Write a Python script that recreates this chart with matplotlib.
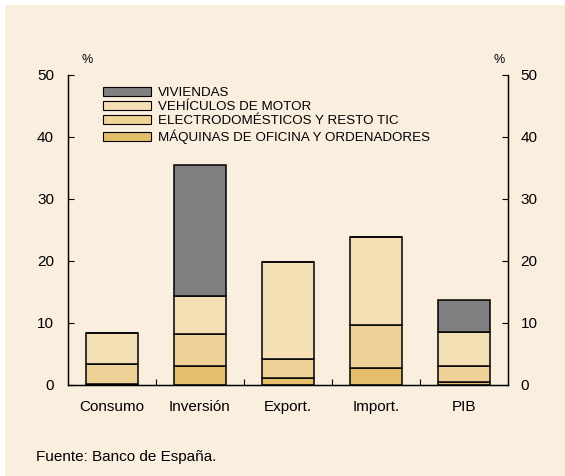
import numpy as np
import matplotlib.pyplot as plt
from matplotlib.patches import Patch, Rectangle

plt.rcParams['font.family'] = ['Liberation Sans', 'DejaVu Sans']

# Categories and stacked series (%)
categorias = ["Consumo", "Inversión", "Export.", "Import.", "PIB"]
maquinas = [0.2, 3.1, 1.1, 2.7, 0.45]
electro = [3.2, 5.2, 3.1, 7.0, 2.65]
vehiculos = [5.0, 6.1, 15.6, 14.2, 5.5]
viviendas = [0.0, 21.1, 0.0, 0.0, 5.1]

series = [
    ("MÁQUINAS DE OFICINA Y ORDENADORES", maquinas, "#e4be6a"),
    ("ELECTRODOMÉSTICOS Y RESTO TIC", electro, "#efd298"),
    ("VEHÍCULOS DE MOTOR", vehiculos, "#f5dfb5"),
    ("VIVIENDAS", viviendas, "#808080"),
]

bg = "#faeedf"
fig = plt.figure(figsize=(5.65, 4.76), dpi=100)
fig.patch.set_facecolor("white")
fig.add_artist(Rectangle((5 / 565, 0), 1, 1 - 5 / 476, transform=fig.transFigure,
                         facecolor=bg, edgecolor="none", zorder=-10))

ax = fig.add_axes([68 / 565, 91 / 476, 440 / 565, 310 / 476])
ax.set_facecolor(bg)
ax.patch.set_alpha(0)

x = np.arange(len(categorias))
bottom = np.zeros(len(categorias))
for label, vals, color in series:
    vals = np.array(vals)
    ax.bar(x, vals, width=0.59, bottom=bottom, color=color, edgecolor="black",
           linewidth=1.1, label=label)
    bottom += vals

ax.set_xlim(-0.5, 4.5)
ax.set_ylim(0, 50)
ax.set_yticks([0, 10, 20, 30, 40, 50])
ax.set_xticks(x)
ax.set_xticklabels(categorias, fontsize=11)
ax.set_xticks([0.5, 1.5, 2.5, 3.5], minor=True)
ax.tick_params(axis="x", which="major", length=0, pad=11)
ax.tick_params(axis="x", which="minor", direction="in", length=4, width=0.8)
ax.tick_params(axis="y", direction="in", length=4, width=0.8, labelsize=11, pad=10)
ax.spines["top"].set_visible(False)
for s in ["left", "right", "bottom"]:
    ax.spines[s].set_linewidth(1.0)

ax2 = ax.twinx()
ax2.set_ylim(0, 50)
ax2.set_yticks([0, 10, 20, 30, 40, 50])
ax2.tick_params(axis="y", direction="in", length=4, width=0.8, labelsize=11, pad=9)
ax2.spines["top"].set_visible(False)

ax.text(0.043, 1.03, "%", transform=ax.transAxes, fontsize=9, ha="center", va="bottom")
ax.text(0.98, 1.03, "%", transform=ax.transAxes, fontsize=9, ha="center", va="bottom")

handles = [Patch(facecolor=c, edgecolor="black", linewidth=0.8, label=l) for l, v, c in series[::-1]]
ax.legend(handles=handles, loc="upper left", bbox_to_anchor=(0.08, 0.962), frameon=False,
          fontsize=9.6, handlelength=3.6, handleheight=0.65, handletextpad=0.5,
          labelspacing=0.16, borderpad=0, borderaxespad=0)

fig.text(36 / 565, 1 - 457 / 476, "Fuente: Banco de España.", fontsize=11, va="center", ha="left")

fig.savefig("out.png", dpi=100, facecolor=fig.get_facecolor())
